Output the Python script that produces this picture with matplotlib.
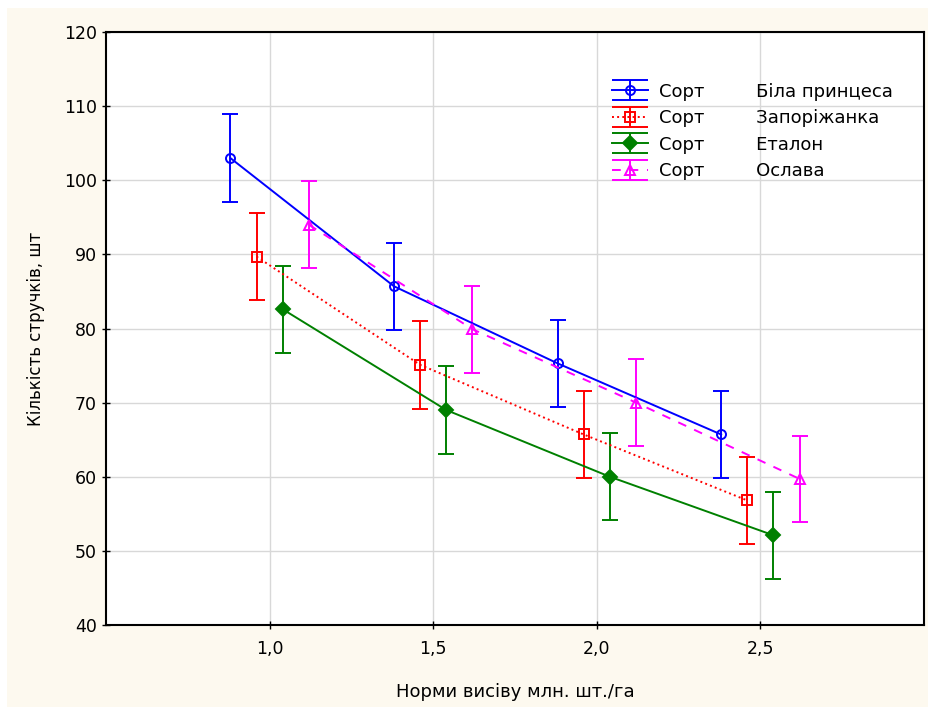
import numpy as np
import matplotlib.pyplot as plt
from matplotlib.patches import Rectangle
from matplotlib.lines import Line2D
from matplotlib.legend_handler import HandlerErrorbar

# data
rates = [1.0, 1.5, 2.0, 2.5]
varieties = ['Біла принцеса', 'Запоріжанка', 'Еталон', 'Ослава']
offsets = [-0.12, -0.04, 0.04, 0.12]
means = {
    'Біла принцеса': [103.0, 85.7, 75.3, 65.7],
    'Запоріжанка': [89.7, 75.1, 65.7, 56.8],
    'Еталон': [82.6, 69.0, 60.0, 52.1],
    'Ослава': [94.0, 79.9, 70.0, 59.7],
}
errors = {
    'Біла принцеса': [5.9, 5.85, 5.85, 5.85],
    'Запоріжанка': [5.85, 5.9, 5.9, 5.85],
    'Еталон': [5.85, 5.9, 5.9, 5.85],
    'Ослава': [5.9, 5.9, 5.85, 5.85],
}

styles = {
    'Біла принцеса': dict(color='#0000ff', ls='-', marker='o', mfc='none', ms=6.5),
    'Запоріжанка': dict(color='#ff0000', ls=':', marker='s', mfc='none', ms=6.5),
    'Еталон': dict(color='#008000', ls='-', marker='D', mfc='#008000', ms=7.5),
    'Ослава': dict(color='#ff00ff', ls=(0, (4.5, 4.5)), marker='^', mfc='none', ms=7),
}


class WideCapHandler(HandlerErrorbar):
    # caps in the legend run across the whole handle, like in the original
    def create_artists(self, legend, orig_handle, xdescent, ydescent,
                       width, height, fontsize, trans):
        artists = super().create_artists(legend, orig_handle, xdescent, ydescent,
                                         width, height, fontsize, trans)
        for a in artists:
            if isinstance(a, Line2D) and a.get_marker() == '_':
                a.set_markersize(width)
        return artists


plt.rcParams['font.family'] = ['DejaVu Sans']

fig = plt.figure(figsize=(9.29, 7.07), dpi=100, facecolor='white')
fig.patches.append(Rectangle((7 / 929, 0), 1, 1 - 8 / 707, transform=fig.transFigure,
                             facecolor='#fdf9ef', edgecolor='none', zorder=-10))
ax = fig.add_axes([106 / 929, 82 / 707, 818 / 929, 593 / 707])
ax.set_facecolor('white')

for name, off in zip(varieties, offsets):
    st = styles[name]
    x = np.array(rates) + off
    ax.errorbar(x, means[name], yerr=errors[name], color=st['color'], ls=st['ls'],
                lw=1.4, marker=st['marker'], mfc=st['mfc'], mec=st['color'],
                ms=st['ms'], mew=1.4, capsize=6, capthick=1.4, elinewidth=1.4,
                label='Сорт         ' + name, zorder=3)

ax.set_xlim(0.5, 3.0)
ax.set_ylim(40, 120)
ax.set_xticks(rates)
ax.set_xticklabels(['1,0', '1,5', '2,0', '2,5'])
ax.set_yticks(range(40, 121, 10))
ax.grid(True, color='#d8d8d8', lw=1.0)
ax.set_axisbelow(True)
ax.tick_params(direction='inout', length=6, width=1, labelsize=12.5, colors='black')
ax.tick_params(axis='x', pad=8)
for sp in ax.spines.values():
    sp.set_linewidth(1.5)
    sp.set_color('black')

ax.set_xlabel('Норми висіву млн. шт./га', fontsize=13, labelpad=18)
ax.set_ylabel('Кількість стручків, шт', fontsize=12, labelpad=14)

ax.legend(loc='upper left', bbox_to_anchor=(0.608, 0.93), frameon=False,
          fontsize=13, handlelength=2.0, handletextpad=0.6, labelspacing=0.47,
          borderpad=0, handler_map={type(ax.containers[0]): WideCapHandler(yerr_size=0.55)})

fig.savefig('out.png', dpi=100, facecolor=fig.get_facecolor())
